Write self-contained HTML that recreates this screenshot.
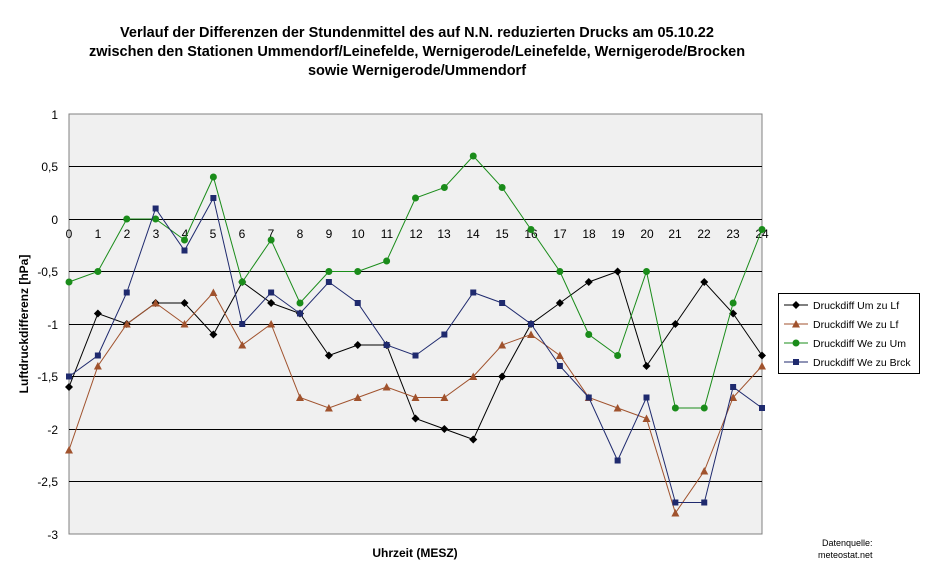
<!DOCTYPE html>
<html><head><meta charset="utf-8"><style>
body{margin:0;background:#fff;}
svg{display:block;font-family:"Liberation Sans",Arial,sans-serif;}
</style></head><body>
<svg id="c" width="938" height="578" viewBox="0 0 938 578" xmlns="http://www.w3.org/2000/svg">
<rect width="938" height="578" fill="#fff"/>
<g font-weight="bold" font-size="14.5" text-anchor="middle" fill="#000">
<text x="417" y="37">Verlauf der Differenzen der Stundenmittel des auf N.N. reduzierten Drucks am 05.10.22</text>
<text x="417" y="56">zwischen den Stationen Ummendorf/Leinefelde, Wernigerode/Leinefelde, Wernigerode/Brocken</text>
<text x="417" y="75">sowie Wernigerode/Ummendorf</text>
</g>
<rect x="69" y="114" width="693" height="420" fill="#f0f0f0" stroke="#808080" stroke-width="1"/>
<g stroke="#000" stroke-width="1">
<line x1="69" y1="166.5" x2="762" y2="166.5"/>
<line x1="69" y1="219.5" x2="762" y2="219.5"/>
<line x1="69" y1="271.5" x2="762" y2="271.5"/>
<line x1="69" y1="324.5" x2="762" y2="324.5"/>
<line x1="69" y1="376.5" x2="762" y2="376.5"/>
<line x1="69" y1="429.5" x2="762" y2="429.5"/>
<line x1="69" y1="481.5" x2="762" y2="481.5"/>
</g>
<g font-size="12" text-anchor="end" fill="#000">
<text x="58" y="119">1</text><text x="58" y="171">0,5</text><text x="58" y="224">0</text>
<text x="58" y="276">-0,5</text><text x="58" y="329">-1</text><text x="58" y="381">-1,5</text>
<text x="58" y="434">-2</text><text x="58" y="486">-2,5</text><text x="58" y="539">-3</text>
</g>
<g font-size="12" text-anchor="middle" fill="#000">
<text x="69" y="238">0</text><text x="98" y="238">1</text><text x="127" y="238">2</text><text x="156" y="238">3</text><text x="185" y="238">4</text><text x="213" y="238">5</text><text x="242" y="238">6</text><text x="271" y="238">7</text><text x="300" y="238">8</text><text x="329" y="238">9</text><text x="358" y="238">10</text><text x="387" y="238">11</text><text x="416" y="238">12</text><text x="444" y="238">13</text><text x="473" y="238">14</text><text x="502" y="238">15</text><text x="531" y="238">16</text><text x="560" y="238">17</text><text x="589" y="238">18</text><text x="618" y="238">19</text><text x="647" y="238">20</text><text x="675" y="238">21</text><text x="704" y="238">22</text><text x="733" y="238">23</text><text x="762" y="238">24</text>
</g>
<text x="415" y="557" font-size="12" font-weight="bold" text-anchor="middle">Uhrzeit (MESZ)</text>
<text transform="translate(28,324) rotate(-90)" font-size="12" font-weight="bold" text-anchor="middle">Luftdruckdifferenz [hPa]</text>
<g id="series"></g>
<rect x="778.5" y="293.5" width="141" height="80" fill="#fff" stroke="#000"/>
<g font-size="10.5" fill="#000">
<text x="813" y="309">Druckdiff Um zu Lf</text>
<text x="813" y="328">Druckdiff We zu Lf</text>
<text x="813" y="347">Druckdiff We zu Um</text>
<text x="813" y="366">Druckdiff We zu Brck</text>
</g>
<g id="leg"></g>
<g font-size="9" fill="#000"><text x="822" y="546">Datenquelle:</text><text x="818" y="558">meteostat.net</text></g>
</svg>
<script>
var D=[
["#000000","d",[-1.6,-0.9,-1.0,-0.8,-0.8,-1.1,-0.6,-0.8,-0.9,-1.3,-1.2,-1.2,-1.9,-2.0,-2.1,-1.5,-1.0,-0.8,-0.6,-0.5,-1.4,-1.0,-0.6,-0.9,-1.3]],
["#a0522d","t",[-2.2,-1.4,-1.0,-0.8,-1.0,-0.7,-1.2,-1.0,-1.7,-1.8,-1.7,-1.6,-1.7,-1.7,-1.5,-1.2,-1.1,-1.3,-1.7,-1.8,-1.9,-2.8,-2.4,-1.7,-1.4]],
["#1a8c1a","c",[-0.6,-0.5,0,0,-0.2,0.4,-0.6,-0.2,-0.8,-0.5,-0.5,-0.4,0.2,0.3,0.6,0.3,-0.1,-0.5,-1.1,-1.3,-0.5,-1.8,-1.8,-0.8,-0.1]],
["#1f2a6e","s",[-1.5,-1.3,-0.7,0.1,-0.3,0.2,-1.0,-0.7,-0.9,-0.6,-0.8,-1.2,-1.3,-1.1,-0.7,-0.8,-1.0,-1.4,-1.7,-2.3,-1.7,-2.7,-2.7,-1.6,-1.8]]];
function mk(t,x,y,c){
 if(t=="d")return '<polygon points="'+x+','+(y-4)+' '+(x+4)+','+y+' '+x+','+(y+4)+' '+(x-4)+','+y+'" fill="'+c+'"/>';
 if(t=="t")return '<polygon points="'+x+','+(y-4)+' '+(x+4)+','+(y+3.5)+' '+(x-4)+','+(y+3.5)+'" fill="'+c+'"/>';
 if(t=="c")return '<circle cx="'+x+'" cy="'+y+'" r="3.5" fill="'+c+'"/>';
 return '<rect x="'+(x-3)+'" y="'+(y-3)+'" width="6" height="6" fill="'+c+'"/>';
}
var h="",l="";
D.forEach(function(s,k){
 var p=s[2].map(function(v,i){return [69+i*28.875,219-v*105];});
 h+='<polyline fill="none" stroke="'+s[0]+'" stroke-width="1" points="'+p.map(function(q){return q[0].toFixed(1)+','+q[1].toFixed(1)}).join(' ')+'"/>';
 p.forEach(function(q){h+=mk(s[1],q[0],q[1],s[0]);});
 var y=305+k*19;
 l+='<line x1="784" y1="'+y+'" x2="808" y2="'+y+'" stroke="'+s[0]+'"/>'+mk(s[1],796,y,s[0]);
});
document.getElementById("series").innerHTML=h;
document.getElementById("leg").innerHTML=l;
</script>
</body></html>
